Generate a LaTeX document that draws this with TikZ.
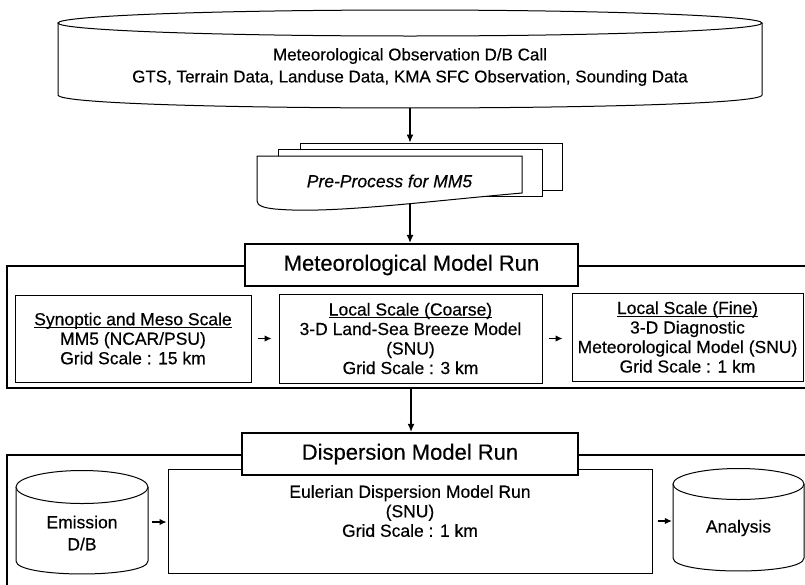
\documentclass[tikz,border=0pt]{standalone}
\usepackage{fontspec}
\setmainfont{Liberation Sans}[FakeBold=0.4]
\usetikzlibrary{arrows.meta}
\newcommand\ulbox[1]{\setbox0\hbox{#1}\rlap{\smash{\rule[-2.4pt]{\wd0}{0.9pt}}}\box0}
\begin{document}
\begin{tikzpicture}[x=1pt,y=-1pt,
  inbox/.style={draw, line width=1pt, fill=white, inner sep=0pt},
  frame/.style={draw, line width=2pt, inner sep=0pt},
  labelbox/.style={draw, line width=2.4pt, fill=white, inner sep=0pt, font=\fontsize{22}{26}\selectfont},
  txt/.style={font=\fontsize{17.5}{19.5}\selectfont, align=center, inner sep=0pt},
  doc/.style={draw, line width=1pt, fill=white, inner sep=0pt},
  cyl/.style={draw, line width=1pt, fill=white},
  arr/.style={-{Latex[length=8pt,width=7pt]}, line width=1.1pt},
  sarr/.style={-{Latex[length=7pt,width=6.5pt]}, line width=1.1pt},
  hidden/.style={inner sep=0pt, draw=none}
]
\useasboundingbox (0,0) rectangle (805,584);
\clip (0,0) rectangle (805,584);

% ---------- top database cylinder ----------
\draw[cyl] (58,23) -- (58,95) .. controls (58,112.3) and (762,112.3) .. (762,95) -- (762,23);
\draw[cyl] (410,23) ellipse [x radius=352pt, y radius=13pt];
\node[hidden, minimum width=704pt, minimum height=98pt] (obs) at (410,59) {};
\node[txt, font=\fontsize{17}{22}\selectfont] (obstext) at (410,67)
  {Meteorological Observation D/B Call\\GTS, Terrain Data, Landuse Data, KMA SFC Observation, Sounding Data};

% ---------- pre-process stacked documents ----------
\node[doc, minimum width=262pt, minimum height=47pt] (back) at (431,166.5) {};
\node[doc, minimum width=264pt, minimum height=47pt] (mid) at (410,172.5) {};
\draw[doc] (257,156) -- (522,156) -- (522,193)
  .. controls (420,202) and (330,214) .. (275,209)
  .. controls (265,208) and (257,206) .. (257,201) -- cycle;
\node[txt, font=\fontsize{17.5}{20}\selectfont\itshape] (pre) at (389.5,181) {Pre-Process for MM5};
\coordinate (prebot) at (410,203.5);

% ---------- meteorological model run ----------
\node[frame, minimum width=808pt, minimum height=122pt] (metframe) at (411,327) {};
\node[labelbox, minimum width=333pt, minimum height=42pt] (metlab) at (411.5,265) {Meteorological Model Run};
\node[inbox, txt, minimum width=236pt, minimum height=87pt] (syn) at (133,338.5)
  {\ulbox{Synoptic and Meso Scale}\\MM5 (NCAR/PSU)\\Grid Scale : 15 km};
\node[inbox, txt, minimum width=263pt, minimum height=89pt] (coarse) at (410.5,338.5)
  {\ulbox{Local Scale (Coarse)}\\3-D Land-Sea Breeze Model\\(SNU)\\Grid Scale : 3 km};
\node[inbox, txt, minimum width=231pt, minimum height=88pt] (fine) at (687.5,337)
  {\ulbox{Local Scale (Fine)}\\3-D Diagnostic\\Meteorological Model (SNU)\\Grid Scale : 1 km};

% ---------- dispersion model run ----------
\node[frame, minimum width=808pt, minimum height=150pt] (dispframe) at (411,530) {};
\node[inbox, minimum width=484pt, minimum height=104pt] (euler) at (410,521) {};
\node[txt] (eulertext) at (410,511) {Eulerian Dispersion Model Run\\(SNU)\\Grid Scale : 1 km};
\node[labelbox, minimum width=336pt, minimum height=42pt] (displab) at (410,454) {Dispersion Model Run};

% emission cylinder
\draw[cyl] (16,487) -- (16,561) .. controls (16,578.3) and (148,578.3) .. (148,561) -- (148,487);
\draw[cyl] (82,487) ellipse [x radius=66pt, y radius=16.5pt];
\node[hidden, minimum width=132pt, minimum height=104pt] (emis) at (82,522) {};
\node[txt, font=\fontsize{17.5}{22}\selectfont] (emistext) at (82,533) {Emission\\D/B};

% analysis cylinder
\draw[cyl] (673,484) -- (673,558) .. controls (673,575.3) and (804,575.3) .. (804,558) -- (804,484);
\draw[cyl] (738.5,484) ellipse [x radius=65.5pt, y radius=15.5pt];
\node[hidden, minimum width=131pt, minimum height=103pt] (anal) at (738.5,520.5) {};
\node[txt] (analtext) at (738.5,528) {Analysis};

% ---------- connectors ----------
\draw[arr] (obs.south) -- (obs.south |- back.north);
\draw[arr] (prebot) -- (prebot |- metlab.north);
\draw[sarr, shorten <=6pt, shorten >=7pt] (syn.east) -- (coarse.west);
\draw[sarr, shorten <=6pt, shorten >=9pt] (coarse.east) -- (coarse.east -| fine.west);
\draw[arr] (metframe.south) -- (metframe.south |- displab.north);
\draw[sarr, shorten <=4pt, shorten >=1pt] (emis.east) -- (emis.east -| euler.west);
\draw[sarr, shorten <=5pt, shorten >=1pt] (euler.east) -- (euler.east -| anal.west);
\end{tikzpicture}
\end{document}
